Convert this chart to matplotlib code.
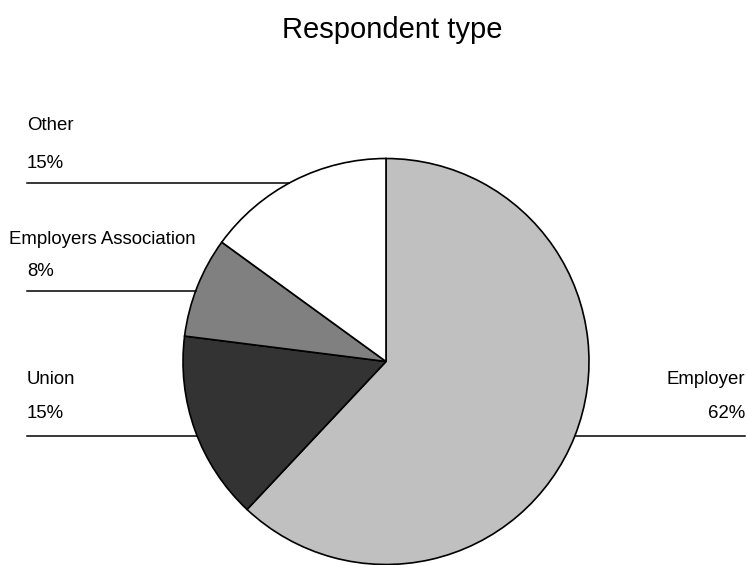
import numpy as np
import matplotlib.pyplot as plt

plt.rcParams['font.family'] = ['Liberation Sans', 'DejaVu Sans']

# Respondent shares, clockwise from 12 o'clock
categories = ["Employer", "Union", "Employers Association", "Other"]
shares = [62, 15, 8, 15]
colors = ["#c0c0c0", "#333333", "#808080", "#ffffff"]

W, H = 747, 565
fig = plt.figure(figsize=(W / 100, H / 100), dpi=100)
ax = fig.add_axes([0, 0, 1, 1])

cx, cy, r = 386, H - 361.5, 203
ax.pie(shares, colors=colors, startangle=90, counterclock=False,
       center=(cx, cy), radius=r, frame=True,
       wedgeprops=dict(edgecolor="black", linewidth=1.2))
ax.set_xlim(0, W)
ax.set_ylim(0, H)
ax.set_aspect("equal")
ax.axis("off")

fig.text(392 / W, 1 - 30 / H, "Respondent type", ha="center", va="center", fontsize=21)


def leader(y_pix, side, x_end):
    # horizontal rule running from the page edge to where it meets the pie
    y = H - y_pix
    dx = np.sqrt(r ** 2 - (y - cy) ** 2)
    if side == "left":
        ax.plot([x_end, cx - dx], [y, y], color="black", lw=1.1)
    else:
        ax.plot([cx + dx, x_end], [y, y], color="black", lw=1.1)


# name position, percentage position, leader line
label_spec = {
    "Other": dict(x1=27, x2=27, ha="left", y1=126, y2=164, yl=183, side="left", xe=27),
    "Employers Association": dict(x1=9, x2=27, ha="left", y1=239, y2=272, yl=291, side="left", xe=27),
    "Union": dict(x1=27, x2=27, ha="left", y1=379, y2=414, yl=436, side="left", xe=27),
    "Employer": dict(x1=745, x2=745, ha="right", y1=379, y2=414, yl=436, side="right", xe=745),
}

for name, val in zip(categories, shares):
    s = label_spec[name]
    ax.text(s["x1"], H - s["y1"], name, ha=s["ha"], va="center", fontsize=13.4)
    ax.text(s["x2"], H - s["y2"], f"{val}%", ha=s["ha"], va="center", fontsize=13.4)
    leader(s["yl"], s["side"], s["xe"])

fig.savefig("out.png", dpi=100)
